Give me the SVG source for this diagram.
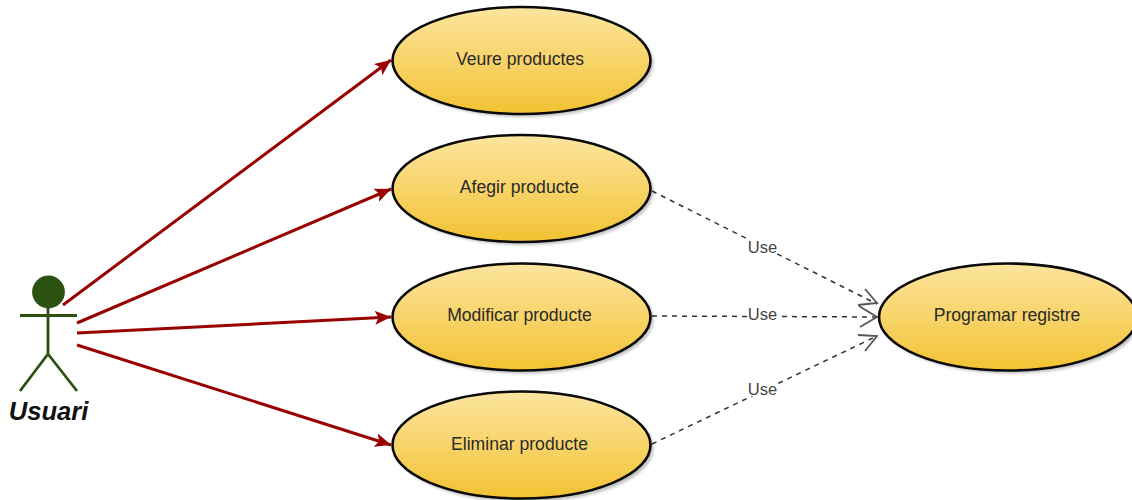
<svg xmlns="http://www.w3.org/2000/svg" width="1132" height="500" viewBox="0 0 1132 500">
<style>
text{font-family:"Liberation Sans",Arial,sans-serif;text-anchor:middle}
.uc ellipse.b{fill:url(#g);stroke:#0a0a0a;stroke-width:2.6}
.uc ellipse.s{fill:#000;opacity:.25;filter:url(#bl)}
.uc text{font-size:17.600px;fill:#2a2a2a}
.a{fill:none;stroke:#990000;stroke-width:3}
.d{fill:none;stroke:#333;stroke-width:1.500;stroke-dasharray:5 5}
.o{fill:none;stroke:#555;stroke-width:1.800}
.l{font-size:16.500px;fill:#444}
.lb{fill:#fff}
</style>
<defs>
<linearGradient id="g" x1="0" y1="0" x2="0" y2="1"><stop offset="0" stop-color="#fde5a0"/><stop offset="1" stop-color="#f2c232"/></linearGradient>
<filter id="bl" x="-10%" y="-10%" width="120%" height="120%"><feGaussianBlur stdDeviation="1.500"/></filter>
<marker id="ah" markerUnits="userSpaceOnUse" markerWidth="18" markerHeight="14" refX="16" refY="7" orient="auto"><path d="M0 0L16 7L0 14L3.500 7Z" fill="#990000"/></marker>
</defs>
<g id="connectors">
<path class="a" d="M63 305L391 60" marker-end="url(#ah)"/>
<path class="a" d="M77 323L391 189" marker-end="url(#ah)"/>
<path class="a" d="M77 333L391 317" marker-end="url(#ah)"/>
<path class="a" d="M77 345L391 445" marker-end="url(#ah)"/>
<path class="d" d="M652 191L877 304"/>
<path class="d" d="M652 316L877 317"/>
<path class="d" d="M652 444L877 336"/>
<path class="o" d="M865 289L877 303L858 305"/>
<path class="o" d="M859 306L877 317L860 327"/>
<path class="o" d="M858 335L877 336L865 351"/>
<rect class="lb" x="748" y="240" width="29" height="15"/>
<rect class="lb" x="748" y="307" width="29" height="15"/>
<rect class="lb" x="748" y="381" width="29" height="15"/>
<text class="l" x="762.500" y="252.500">Use</text>
<text class="l" x="762.500" y="319.500">Use</text>
<text class="l" x="762.500" y="394.500">Use</text>
</g>
<g id="actor" fill="none" stroke="#2c5212" stroke-width="2.800">
<circle cx="48.500" cy="292" r="15" fill="#2c5212"/>
<path d="M48 307V354M20 315.500H77M48 354L20 391M48 354L77 391"/>
<text x="48.500" y="420" font-size="25.600" font-weight="bold" font-style="italic" fill="#111" stroke="none">Usuari</text>
</g>
<g id="n1" class="uc"><ellipse class="s" cx="524.500" cy="63" rx="129" ry="54"/><ellipse class="b" cx="521.500" cy="60.500" rx="129" ry="53.500"/><text x="520" y="65">Veure productes</text></g>
<g id="n2" class="uc"><ellipse class="s" cx="524.500" cy="191" rx="129" ry="54"/><ellipse class="b" cx="521.500" cy="188.500" rx="129" ry="53.500"/><text x="519.500" y="192.500">Afegir producte</text></g>
<g id="n3" class="uc"><ellipse class="s" cx="524.500" cy="319.500" rx="129" ry="54"/><ellipse class="b" cx="521.500" cy="317" rx="129" ry="53.500"/><text x="519.500" y="321">Modificar producte</text></g>
<g id="n4" class="uc"><ellipse class="s" cx="524.500" cy="448" rx="129" ry="54"/><ellipse class="b" cx="521.500" cy="445" rx="129" ry="53.500"/><text x="519.500" y="449.500">Eliminar producte</text></g>
<g id="n5" class="uc"><ellipse class="s" cx="1011" cy="319.500" rx="129" ry="54"/><ellipse class="b" cx="1008" cy="317" rx="129" ry="53.500"/><text x="1007" y="321">Programar registre</text></g>
</svg>
